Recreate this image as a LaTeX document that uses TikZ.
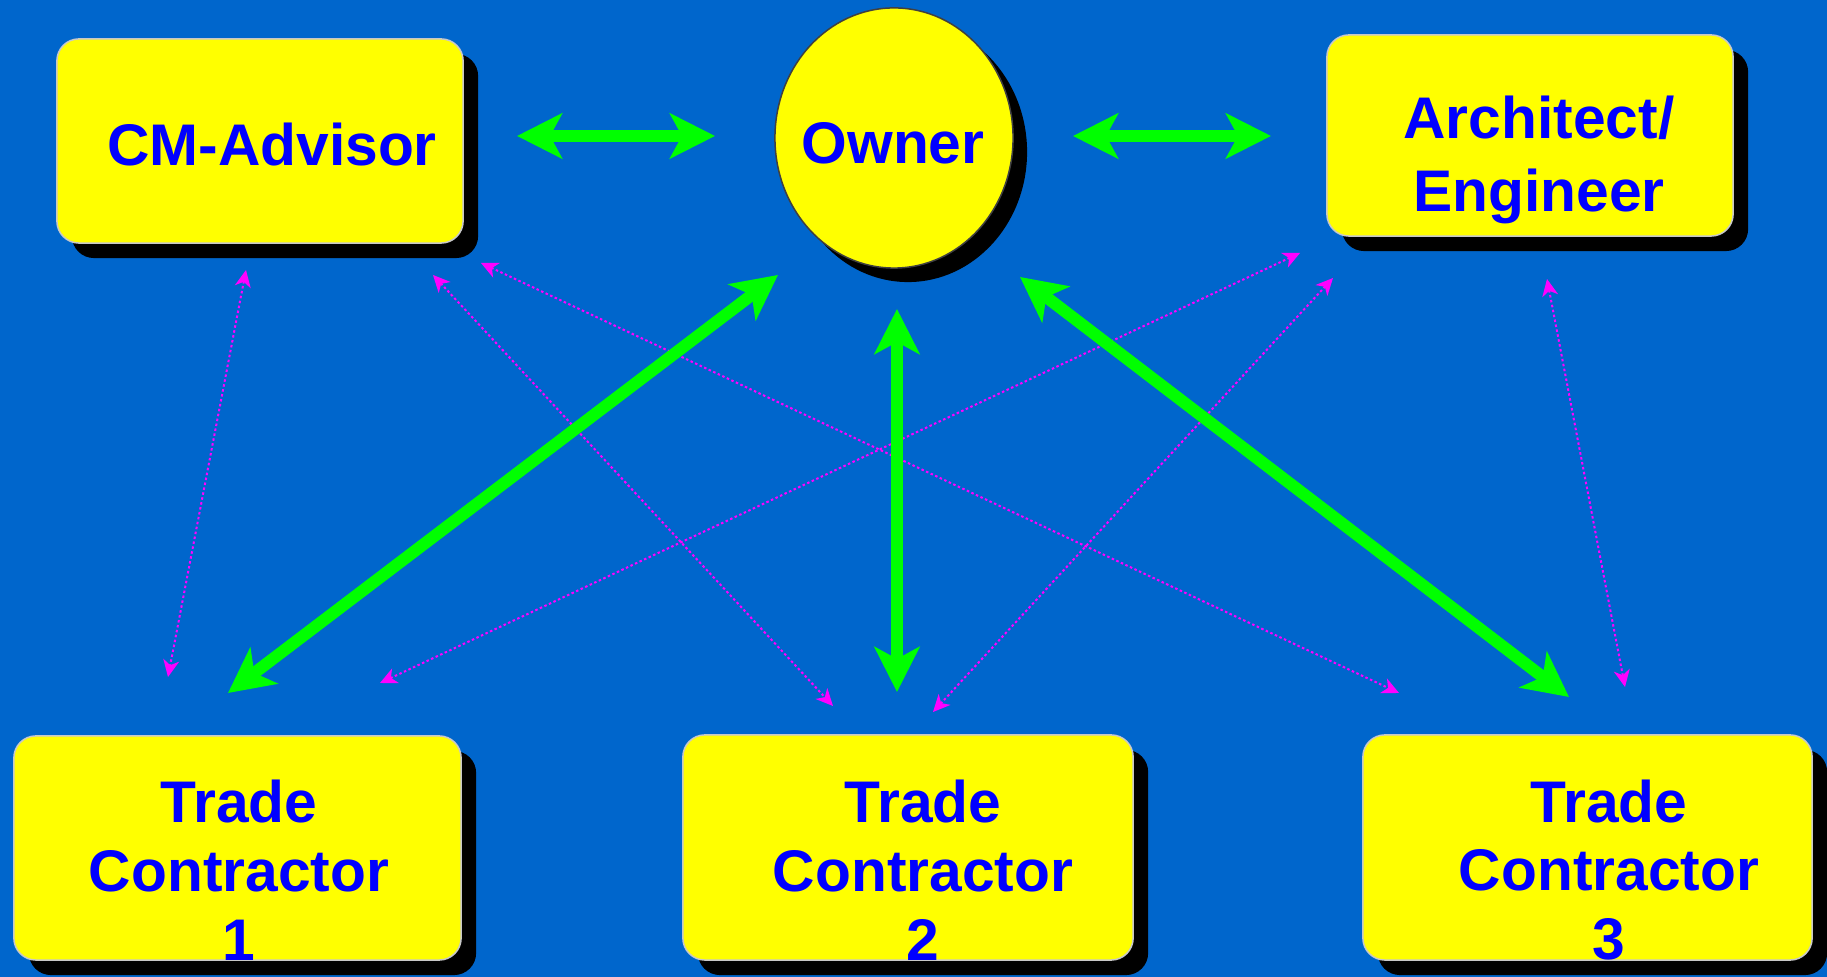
\documentclass[tikz,border=0pt]{standalone}
\usepackage{fontspec}
\setmainfont{Liberation Sans}
\usetikzlibrary{arrows.meta,shapes.geometric,shadows}
\definecolor{bgblue}{RGB}{0,102,204}
\definecolor{boxfill}{RGB}{255,255,0}
\definecolor{boxedge}{RGB}{200,200,200}
\definecolor{circedge}{RGB}{64,64,64}
\definecolor{txtblue}{RGB}{0,0,255}
\definecolor{arrgreen}{RGB}{0,255,0}
\definecolor{arrmag}{RGB}{255,0,255}
\begin{document}
\begin{tikzpicture}[x=0.01cm,y=-0.01cm,
  boxshape/.style={draw=boxedge, line width=0.015cm, fill=boxfill,
    rounded corners=0.22cm, inner sep=0pt,
    drop shadow={shadow xshift=0.15cm,shadow yshift=-0.15cm,fill=black,opacity=1}},
  ownershape/.style={ellipse, draw=circedge, line width=0.015cm, fill=boxfill,
    inner sep=0pt, minimum width=2.38cm, minimum height=2.6cm,
    drop shadow={shadow xshift=0.14cm,shadow yshift=-0.14cm,fill=black,opacity=1}},
  lbl/.style={text=txtblue, inner sep=0pt, align=center,
    font=\fontsize{16.7pt}{19.6pt}\selectfont\bfseries},
  lblarch/.style={lbl, font=\fontsize{16.7pt}{20.5pt}\selectfont\bfseries},
  bigarrow/.style={draw=arrgreen, line width=0.12cm,
    {Stealth[length=0.45cm,width=0.45cm,inset=0.12cm]}-{Stealth[length=0.45cm,width=0.45cm,inset=0.12cm]}},
  smallarrow/.style={draw=arrmag, line width=0.02cm, dash pattern=on 0.025cm off 0.025cm,
    {Stealth[length=0.17cm,width=0.16cm,inset=0.05cm]}-{Stealth[length=0.17cm,width=0.16cm,inset=0.05cm]}}
]
\fill[bgblue] (0,0) rectangle (1827,977);
\useasboundingbox (0,0) rectangle (1827,977);

% boxes
\node[boxshape, minimum width=4.06cm, minimum height=2.04cm] (cm) at (260,141) {};
\node[lbl] (cmtext) at (272,145) {CM-Advisor};

\node[ownershape] (owner) at (894,138) {};
\node[lbl] (ownertext) at (893,143) {Owner};

\node[boxshape, minimum width=4.06cm, minimum height=2.01cm] (arch) at (1530,135.5) {};
\node[lblarch] (archtext) at (1539,160) {Architect/\\Engineer};

\node[boxshape, minimum width=4.47cm, minimum height=2.24cm] (tc1) at (237.5,848) {};
\node[lbl] (tc1text) at (239,870) {Trade\\Contractor\\1};

\node[boxshape, minimum width=4.50cm, minimum height=2.25cm] (tc2) at (908,847.5) {};
\node[lbl] (tc2text) at (923,870) {Trade\\Contractor\\2};

\node[boxshape, minimum width=4.49cm, minimum height=2.25cm] (tc3) at (1587.5,847.5) {};
\node[lbl] (tc3text) at (1609,870) {Trade\\Contractor\\3};

% arrow end points
\coordinate (gCMa) at (517,136);  \coordinate (gCMb) at (715,136);
\coordinate (gARa) at (1073,136); \coordinate (gARb) at (1271,136);
\coordinate (gT1a) at (778,275);  \coordinate (gT1b) at (228,693);
\coordinate (gT2a) at (897,309);  \coordinate (gT2b) at (897,692);
\coordinate (gT3a) at (1020,277); \coordinate (gT3b) at (1569,697);

\coordinate (m1a) at (246,270);  \coordinate (m1b) at (168,677);
\coordinate (m2a) at (433,275);  \coordinate (m2b) at (833,706);
\coordinate (m3a) at (481,263);  \coordinate (m3b) at (1399,693);
\coordinate (m4a) at (1300,253); \coordinate (m4b) at (380,683);
\coordinate (m5a) at (1333,278); \coordinate (m5b) at (933,712);
\coordinate (m6a) at (1547,279); \coordinate (m6b) at (1625,687);

% dotted magenta connectors
\draw[smallarrow] (m1a) -- (m1b);
\draw[smallarrow] (m2a) -- (m2b);
\draw[smallarrow] (m3a) -- (m3b);
\draw[smallarrow] (m4a) -- (m4b);
\draw[smallarrow] (m5a) -- (m5b);
\draw[smallarrow] (m6a) -- (m6b);

% green connectors
\draw[bigarrow] (gCMa) -- (gCMb);
\draw[bigarrow] (gARa) -- (gARb);
\draw[bigarrow] (gT1a) -- (gT1b);
\draw[bigarrow] (gT2a) -- (gT2b);
\draw[bigarrow] (gT3a) -- (gT3b);
\end{tikzpicture}
\end{document}
